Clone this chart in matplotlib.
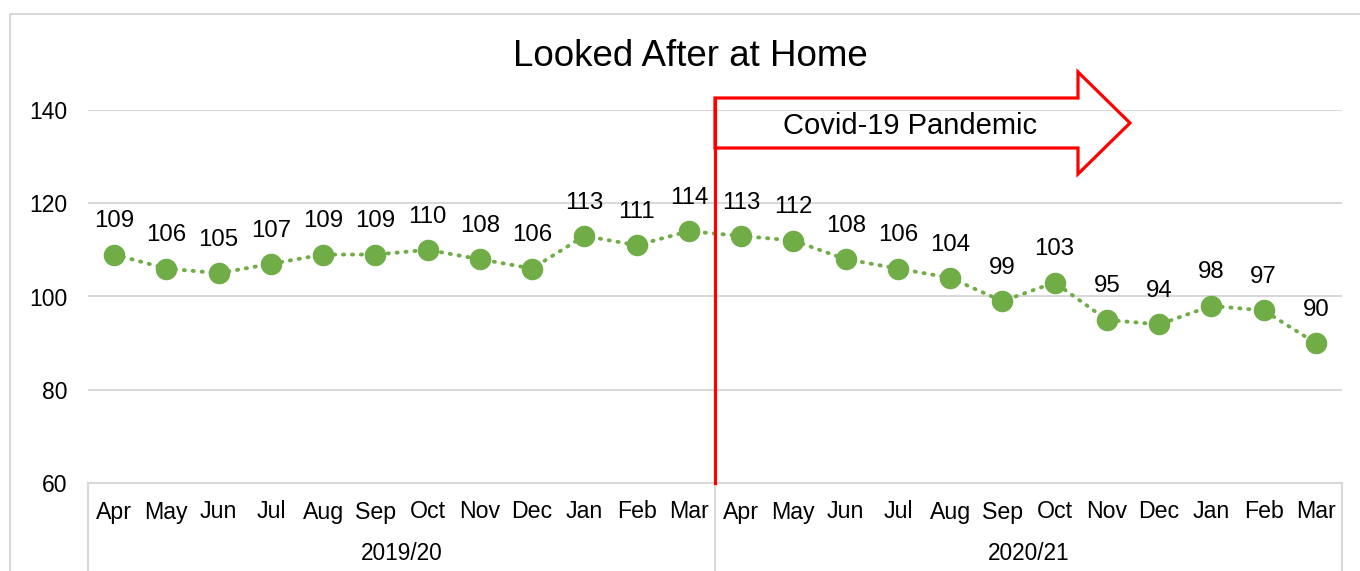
import matplotlib
matplotlib.use("Agg")
import matplotlib.pyplot as plt
from matplotlib.patches import Rectangle, Polygon
import matplotlib.transforms as mtransforms

plt.rcParams['font.family'] = ['Liberation Sans', 'DejaVu Sans']

months = ["Apr", "May", "Jun", "Jul", "Aug", "Sep", "Oct", "Nov", "Dec", "Jan", "Feb", "Mar"]
years = ["2019/20", "2020/21"]
values = [109, 106, 105, 107, 109, 109, 110, 108, 106, 113, 111, 114,
          113, 112, 108, 106, 104, 99, 103, 95, 94, 98, 97, 90]
yticks = [60, 80, 100, 120, 140]
title = "Looked After at Home"
annotation = "Covid-19 Pandemic"

W, H = 1360, 571
fig = plt.figure(figsize=(W / 100, H / 100), dpi=100)
ax = fig.add_axes([88 / W, (H - 483) / H, (1342 - 88) / W, (483 - 110) / H])

green = "#70AD47"
grid = "#D9D9D9"
n = len(values)
x = list(range(n))

ax.plot(x, values, color=green, lw=2.8, linestyle=(0, (0.3, 2.0)),
        dash_capstyle='round', zorder=3)
ax.plot(x, values, linestyle='none', marker='o', markersize=14.5,
        color=green, markeredgecolor=green, zorder=4)
for xi, v in zip(x, values):
    ax.annotate(str(v), (xi, v), xytext=(0, 24), textcoords='offset points',
                ha='center', va='center', fontsize=17.3, color='black', zorder=5)

ax.set_xlim(-0.5, n - 0.5)
ax.set_ylim(60, 140)
ax.set_yticks(yticks)
ax.set_yticklabels([str(t) for t in yticks], fontsize=16.5)
ax.tick_params(axis='y', length=0, pad=15)
ax.tick_params(axis='x', length=0)
ax.set_xticks([])
ax.grid(axis='y', color=grid, lw=1.5)
ax.set_axisbelow(True)
for s in ['left', 'right', 'top']:
    ax.spines[s].set_visible(False)
ax.spines['bottom'].set_color(grid)
ax.spines['bottom'].set_linewidth(1.5)

# category labels
trans = mtransforms.blended_transform_factory(ax.transData, ax.transAxes)
month_y = -(512 - 483) / (483 - 110)
year_y = -(553 - 483) / (483 - 110)
for xi in x:
    ax.text(xi, month_y, months[xi % 12], transform=trans, ha='center',
            va='center', fontsize=16.7)
for i, yr in enumerate(years):
    ax.text(i * 12 + 5.5, year_y, yr, transform=trans, ha='center',
            va='center', fontsize=16.3)
for b in [-0.5, 11.5, 23.5]:
    ax.plot([b, b], [0, -0.3], transform=trans, color=grid, lw=1.5,
            clip_on=False, zorder=1)

# outer border
fig.patches.append(Rectangle((10 / W, -0.1), 1.2, (H - 14) / H + 0.1,
                             transform=fig.transFigure, fill=False,
                             edgecolor=grid, lw=1.5))

# title
fig.text(690 / W, (H - 57) / H, title, ha='center', va='center', fontsize=26.5)

# covid marker: vertical line + arrow outline (figure pixel fractions)
red = "#FF0000"
def P(px, py):
    return (px / W, (H - py) / H)
fig.lines.append(plt.Line2D([715 / W, 715 / W], [(H - 483) / H, (H - 98) / H],
                            transform=fig.transFigure, color=red, lw=2.3))
arrow_pts = [P(715, 98), P(1078, 98), P(1078, 72), P(1130, 123),
             P(1078, 174), P(1078, 148), P(715, 148)]
fig.patches.append(Polygon(arrow_pts, closed=True, fill=False, edgecolor=red,
                           lw=2.3, transform=fig.transFigure, joinstyle='miter'))
fig.text(910 / W, (H - 126) / H, annotation, ha='center', va='center', fontsize=21)

fig.savefig("out.png", dpi=100)
